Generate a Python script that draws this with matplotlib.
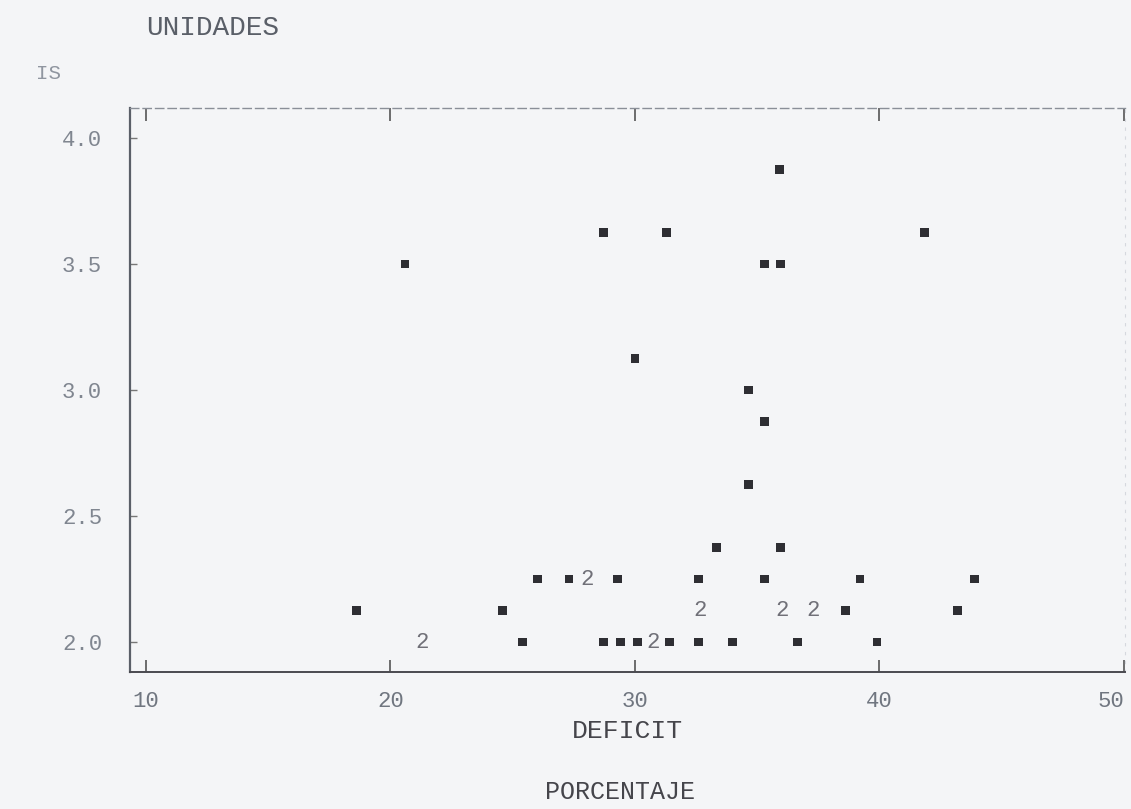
import matplotlib
matplotlib.use('Agg')
import matplotlib.pyplot as plt

# single observations (DEFICIT %, UNIDADES)
deficit = [18.6, 20.6, 24.6, 25.4, 26.0, 27.3, 28.7, 28.7, 29.3, 29.4,
           30.0, 30.1, 31.3, 31.4, 32.6, 32.6, 33.35, 34.0, 34.65, 34.65,
           35.3, 35.3, 35.3, 35.9, 35.95, 35.95, 36.65, 38.6, 39.2, 39.9,
           41.85, 43.2, 43.9]
unidades = [2.125, 3.5, 2.125, 2.0, 2.25, 2.25, 3.625, 2.0, 2.25, 2.0,
            3.125, 2.0, 3.625, 2.0, 2.25, 2.0, 2.375, 2.0, 3.0, 2.625,
            3.5, 2.875, 2.25, 3.875, 3.5, 2.375, 2.0, 2.125, 2.25, 2.0,
            3.625, 2.125, 2.25]

# coincident observations, printed as a count
dup_deficit = [21.3, 28.05, 30.75, 32.65, 36.0, 37.3]
dup_unidades = [2.0, 2.25, 2.0, 2.125, 2.125, 2.125]
dup_count = ["2", "2", "2", "2", "2", "2"]

x_ticks = [10, 20, 30, 40, 50]
y_ticks = [2.0, 2.5, 3.0, 3.5, 4.0]

bg = "#f4f5f7"
mono = "Liberation Mono"

fig = plt.figure(figsize=(11.31, 8.09), dpi=100, facecolor=bg)
ax = fig.add_axes([0.1149, 0.1693, 0.8798, 0.6972], facecolor=bg)

ax.scatter(deficit, unidades, marker="s", s=40, color="#2e2e33",
           edgecolors="none", zorder=3)
for x, y, c in zip(dup_deficit, dup_unidades, dup_count):
    ax.text(x, y, c, ha="center", va="center", fontsize=16,
            color="#707078", family=mono, zorder=3)

ax.set_xlim(9.35, 50.04)
ax.set_ylim(1.881, 4.119)

ax.set_xticks(x_ticks)
ax.set_xticklabels([str(t) for t in x_ticks], family=mono, fontsize=16,
                   color="#707680")
ax.get_xticklabels()[-1].set_horizontalalignment("right")
ax.set_yticks(y_ticks)
ax.set_yticklabels(["%.1f" % t for t in y_ticks], family=mono, fontsize=16,
                   color="#808690")

ax.tick_params(axis="x", direction="in", length=9, width=1.2, top=True,
               color="#555555", pad=14)
ax.tick_params(axis="y", direction="in", length=5, width=1.0,
               color="#777777", pad=20)

ax.spines["left"].set_color("#5a5f68")
ax.spines["left"].set_linewidth(1.6)
ax.spines["bottom"].set_color("#4a4a50")
ax.spines["bottom"].set_linewidth(1.4)
ax.spines["top"].set_color("#8a8f98")
ax.spines["top"].set_linewidth(1.0)
ax.spines["top"].set_linestyle((0, (6, 3)))
ax.spines["right"].set_color("#d5d8de")
ax.spines["right"].set_linewidth(0.8)
ax.spines["right"].set_linestyle((0, (2, 6)))

ax.set_xlabel("DEFICIT", family=mono, fontsize=19, color="#45454b",
              labelpad=5)
fig.text(0.548, 0.006, "PORCENTAJE", family=mono, fontsize=18,
         color="#45454b", ha="center", va="bottom")
fig.text(0.188, 0.966, "UNIDADES", family=mono, fontsize=20,
         color="#5a5f68", ha="center", va="center")
fig.text(0.043, 0.909, "IS", family=mono, fontsize=15,
         color="#9096a0", ha="center", va="center")

plt.savefig("out.png", dpi=100, facecolor=bg)
plt.close()
